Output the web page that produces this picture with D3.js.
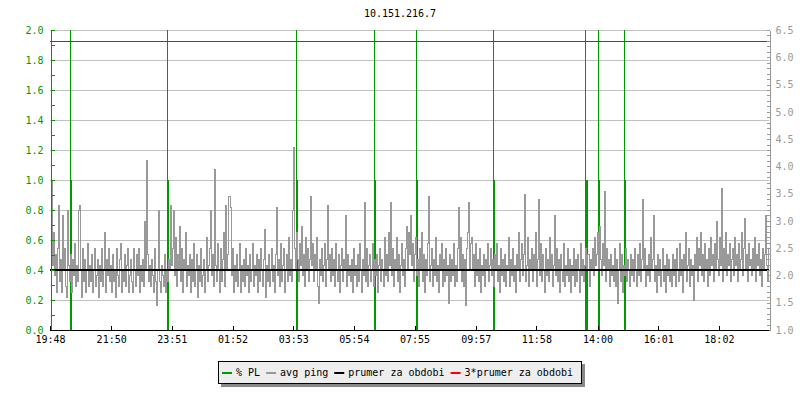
<!DOCTYPE html>
<html><head><meta charset="utf-8">
<script src="https://cdn.jsdelivr.net/npm/d3@7"></script>
<style>
body{margin:0;background:#fff;}
svg{display:block;}
text{font-family:"DejaVu Sans Mono",monospace;font-size:10px;}
</style></head>
<body><svg id="c" width="800" height="400"></svg>
<script>
const title = "10.151.216.7";
// x axis: minutes after 19:48
const xTickMinutes = [0,122,243,364,485,606,727,849,970,1092,1213,1334];
const xTickLabels = ["19:48","21:50","23:51","01:52","03:53","05:54","07:55","09:57","11:58","14:00","16:01","18:02"];
const xDomainMinutes = [0,1432];
const stepMinutes = 2;
// left axis (% PL)
const leftMajor = [0,0.2,0.4,0.6,0.8,1.0,1.2,1.4,1.6,1.8,2.0];
const leftMinor = [0.1,0.3,0.5,0.7,0.9,1.1,1.3,1.5,1.7,1.9];
// right axis (avg ping)
const rightDomain = [1.0,6.5];
const rightLabels = [1.0,1.5,2.0,2.5,3.0,3.5,4.0,4.5,5.0,5.5,6.0,6.5];
// packet loss events
const plMinutes = [40,234,490,646,730,884,1068,1092,1144];
const plDuration = [4,4,4,4,4,4,6,4,4];
const plValue = [1,1,1,1,1,1,1,1,1];
// averages
const avgPing = 2.1;
const avgPing3 = 6.3;
// avg ping samples (every 2 minutes)
const avgPingValues = [
2.6,3.75,2.2,2.8,2.0,2.4,1.7,2.5,3.3,1.9,2.3,1.7,3.1,2.1,2.5,1.8,1.6,3.2,2.2,1.9,
2.4,1.7,2.3,2.0,2.6,1.8,2.2,1.9,3.2,3.3,2.1,1.6,2.5,1.9,2.3,1.7,2.1,2.6,1.8,2.2,
1.9,2.4,1.7,2.1,2.5,1.8,2.0,2.3,1.6,2.2,1.9,2.5,1.8,2.1,2.8,1.7,2.3,2.0,2.5,1.9,
2.2,1.7,2.4,1.9,2.1,1.6,2.5,2.0,1.8,2.3,2.6,1.7,2.1,1.9,2.4,1.8,2.2,2.5,1.7,2.0,
2.3,1.9,1.7,2.5,2.1,1.8,2.4,2.0,2.5,1.7,2.2,1.9,2.3,1.8,3.0,2.1,4.12,2.4,1.9,2.2,
1.8,2.3,2.0,1.7,2.5,1.9,1.45,2.1,3.2,1.9,1.7,2.2,2.0,1.8,2.4,1.7,2.1,1.9,2.3,2.1,
3.3,2.2,2.5,3.2,2.0,2.7,1.8,2.4,2.1,2.9,1.9,2.5,1.7,2.3,2.1,2.8,1.8,2.2,2.0,2.4,
1.7,2.3,1.9,2.6,1.8,2.1,2.4,1.6,2.2,1.9,2.5,1.8,2.0,2.3,1.7,2.1,2.7,1.9,2.2,2.5,
3.2,2.0,2.4,1.8,3.95,2.2,1.9,2.6,2.1,1.7,2.5,1.9,2.3,2.8,1.8,3.3,2.1,2.4,3.45,3.25,
2.0,2.5,1.7,2.2,1.9,2.4,1.8,2.1,2.6,1.7,2.2,1.9,2.3,1.8,2.5,2.0,2.2,1.7,2.4,1.9,
2.1,2.6,1.8,2.2,2.0,2.4,1.7,2.3,1.9,2.5,2.1,1.8,2.3,2.85,1.6,2.2,1.9,2.4,1.8,2.1,
2.5,1.9,2.2,1.7,2.4,3.25,2.0,2.3,1.8,2.6,1.9,2.2,2.5,1.7,2.1,2.4,1.9,2.7,2.0,2.3,
1.9,3.2,4.36,2.5,2.1,2.8,2.3,1.9,2.6,2.2,2.9,2.0,2.4,1.8,2.7,2.1,2.5,1.9,2.3,3.45,
2.2,2.6,1.9,2.4,2.1,2.7,1.8,1.5,2.3,2.0,2.5,1.9,2.2,2.6,1.8,2.3,3.3,2.1,2.4,1.9,
2.5,2.0,2.3,1.8,2.6,2.1,1.9,2.4,1.7,2.2,2.5,1.9,2.3,2.1,3.1,1.8,2.4,2.0,2.2,1.9,
2.3,1.7,2.5,2.0,2.2,1.8,2.4,1.9,2.6,2.1,1.7,2.3,2.0,3.35,1.9,2.5,1.8,2.2,2.4,1.9,
2.1,2.6,1.8,2.3,2.0,2.4,1.7,2.2,2.5,1.9,2.3,2.1,1.8,2.7,2.0,2.4,1.9,2.8,2.2,3.35,
2.0,2.5,1.8,2.3,2.1,2.7,1.9,2.4,1.7,2.2,2.6,2.0,2.3,1.8,2.5,2.9,2.1,2.8,2.4,3.1,
2.2,2.6,1.9,2.4,2.7,2.0,2.3,1.8,2.5,2.1,2.8,1.9,2.4,1.7,2.3,2.0,2.6,3.45,1.9,2.2,
2.5,1.8,2.3,2.0,2.7,1.9,2.2,1.7,2.4,2.1,2.6,1.8,2.3,1.9,2.5,2.0,2.2,1.5,2.4,1.9,
2.3,2.0,2.6,1.8,2.2,1.9,2.5,3.25,2.1,2.7,1.9,2.4,1.8,2.3,1.45,2.5,2.8,3.35,2.1,2.6,
2.7,2.1,2.4,1.8,2.6,2.0,2.3,1.9,2.5,1.7,2.2,2.0,2.4,1.8,2.3,2.1,2.6,1.9,2.2,2.5,
2.0,2.3,1.8,2.4,2.1,2.6,1.9,2.2,1.7,2.5,2.0,2.3,1.9,2.4,1.8,2.2,2.1,2.7,1.8,2.3,
2.0,2.5,1.9,2.2,1.7,2.4,2.1,2.8,1.9,2.3,2.6,2.0,2.4,3.5,1.9,2.2,2.7,1.8,2.3,2.1,
2.5,1.9,2.4,2.1,2.8,1.8,2.3,3.4,2.0,2.6,1.9,2.4,2.1,1.7,2.5,2.0,2.3,1.9,2.7,2.1,
2.4,1.8,2.2,3.1,2.0,2.5,1.9,2.3,1.7,2.4,2.1,1.9,2.6,1.8,2.2,2.0,2.5,1.9,2.3,1.7,
2.2,2.0,2.5,1.8,2.3,1.9,2.4,2.1,1.7,2.6,2.0,2.3,1.9,2.2,2.5,2.1,2.4,1.8,2.3,2.1,
2.5,2.0,2.7,2.2,2.4,2.8,2.1,2.9,2.3,2.0,2.6,2.2,3.55,1.9,2.5,2.1,2.3,1.8,2.4,2.0,
2.2,1.9,2.5,1.8,2.3,1.5,2.1,2.6,1.9,2.4,1.7,2.2,2.0,2.5,1.9,2.3,2.1,1.8,2.4,2.0,
2.3,1.9,2.5,2.1,1.8,2.4,2.0,2.6,1.9,2.3,3.4,2.1,2.5,1.8,2.2,2.0,2.4,1.9,2.7,2.1,
2.3,3.1,1.9,2.2,1.7,2.4,2.0,2.3,1.8,2.1,2.5,1.9,2.2,1.7,2.4,2.0,2.3,1.9,2.1,1.8,
2.4,2.0,2.3,1.8,2.5,2.1,1.9,2.6,2.0,2.3,1.7,2.4,2.1,2.8,1.9,2.2,2.5,1.8,2.3,2.0,
2.2,1.55,2.4,2.1,2.7,1.9,2.5,2.2,2.8,2.0,2.4,1.9,2.6,2.1,2.3,1.8,2.5,2.0,2.7,2.2,
2.4,1.9,2.6,2.1,3.0,2.3,2.0,2.7,2.2,3.6,1.9,2.5,2.1,2.8,2.0,2.4,2.2,2.6,1.9,2.3,
2.5,2.0,2.7,2.2,2.4,1.9,2.6,2.1,2.3,2.8,2.0,2.5,3.05,2.1,2.4,1.9,2.6,2.2,2.3,2.0,
2.5,2.1,2.7,1.9,2.4,2.2,2.6,2.0,2.3,1.8,2.5,2.1,2.4,3.1,2.2,1.9,2.5,2.1
];
const legendItems = [
  {label:"% PL", color:"#009900"},
  {label:"avg ping", color:"#999999"},
  {label:"prumer za obdobi", color:"#000000"},
  {label:"3*prumer za obdobi", color:"#ff0000"}
];

const GREEN = "#009900", GRID = "#c0c0c0", PING = "#999999";
const svg = d3.select("#c");
const L = 50, R = 768, T = 30, B = 330;
const x = d3.scaleLinear().domain(xDomainMinutes).range([L, R]);
const yL = d3.scaleLinear().domain([0, 2]).range([B, T]);
const yR = d3.scaleLinear().domain(rightDomain).range([B, T]);

svg.append("defs").append("clipPath").attr("id","clip")
  .append("rect").attr("x",L).attr("y",T).attr("width",R-L+1).attr("height",B-T);

// title
svg.append("text").attr("x",400).attr("y",17).attr("text-anchor","middle").attr("fill","#000").text(title);

// gridlines
svg.append("g").selectAll("line").data(leftMajor.filter(d=>d>0)).join("line")
  .attr("x1",L).attr("x2",R+1).attr("y1",d=>yL(d)+0.5).attr("y2",d=>yL(d)+0.5)
  .attr("stroke",GRID).attr("stroke-width",1);

const plot = svg.append("g").attr("clip-path","url(#clip)");

// % PL
plMinutes.forEach((m,i)=>{
  const x0 = Math.round(x(m));
  const w = Math.max(2, Math.round(x(m+plDuration[i]) - x(m)));
  plot.append("line").attr("x1",x0+0.5).attr("x2",x0+0.5).attr("y1",yL(2)).attr("y2",yL(plValue[i]))
    .attr("stroke",GREEN).attr("stroke-width",1);
  plot.append("rect").attr("x",x0).attr("width",w).attr("y",yL(plValue[i])).attr("height",yL(0)-yL(plValue[i]))
    .attr("fill",GREEN);
});

// avg ping
const line = d3.line().curve(d3.curveStepAfter)
  .x((d,i)=>Math.round(x(i*stepMinutes))+0.5).y(d=>Math.round(yR(d))+0.5);
plot.append("path").datum(avgPingValues).attr("d",line).attr("fill","none")
  .attr("stroke",PING).attr("stroke-width",1).attr("shape-rendering","crispEdges");

// averages
plot.append("line").attr("x1",L).attr("x2",R+1).attr("y1",Math.round(yR(avgPing))).attr("y2",Math.round(yR(avgPing)))
  .attr("stroke","#000").attr("stroke-width",2);
plot.append("line").attr("x1",L).attr("x2",R+1).attr("y1",Math.round(yR(avgPing3))+0.5).attr("y2",Math.round(yR(avgPing3))+0.5)
  .attr("stroke","#ff0000").attr("stroke-width",1);

// left axis
const gL = svg.append("g").attr("transform",`translate(${L+0.5},0)`);
gL.call(d3.axisLeft(yL).tickValues(leftMajor).tickFormat(d3.format(".1f")).tickSizeInner(-4).tickSizeOuter(0).tickPadding(7));
gL.append("g").call(d3.axisLeft(yL).tickValues(leftMinor).tickFormat("").tickSizeInner(-4).tickSizeOuter(0));
gL.selectAll("path,line").attr("stroke",GREEN).attr("shape-rendering","crispEdges");
gL.selectAll("text").attr("fill",GREEN).style("font-family","DejaVu Sans Mono").style("font-size","10px");

// right axis
const rTicks = d3.range(10,66).map(d=>d/10);
const gR = svg.append("g").attr("transform",`translate(${R+1.5},0)`);
gR.call(d3.axisRight(yR).tickValues(rTicks)
  .tickFormat(d=> rightLabels.some(v=>Math.abs(v-d)<1e-6) ? d3.format(".1f")(d) : "")
  .tickSizeInner(-3).tickSizeOuter(0).tickPadding(6));
gR.selectAll("path,line").attr("stroke","#999").attr("shape-rendering","crispEdges");
gR.selectAll("text").attr("fill","#999").style("font-family","DejaVu Sans Mono").style("font-size","10px");

// bottom axis
const gB = svg.append("g").attr("transform",`translate(0,${B+0.5})`);
gB.call(d3.axisBottom(x).tickValues(xTickMinutes).tickFormat((d,i)=>xTickLabels[i]).tickSizeInner(-5).tickSizeOuter(0).tickPadding(5));
gB.selectAll("path,line").attr("stroke","#000").attr("shape-rendering","crispEdges");
gB.select(".domain").attr("d",`M${L},0H${R+1}`);
gB.selectAll("text").attr("fill","#000").style("font-family","DejaVu Sans Mono").style("font-size","10px");

// legend
const lg = svg.append("g");
const lx = 218, ly = 361, lh = 22;
const shadow = lg.append("rect").attr("fill","#888");
const box = lg.append("rect").attr("fill","#eeeeee").attr("stroke","#000").attr("stroke-width",1);
let cx = lx + 4;
legendItems.forEach(it=>{
  lg.append("line").attr("x1",cx).attr("x2",cx+10).attr("y1",ly+lh/2+1).attr("y2",ly+lh/2+1)
    .attr("stroke",it.color).attr("stroke-width",2);
  const t = lg.append("text").attr("x",cx+14).attr("y",ly+lh/2+4).attr("fill","#000").text(it.label);
  cx += 14 + t.node().getComputedTextLength() + 6;
});
const lw = cx - lx + 2;
box.attr("x",lx+0.5).attr("y",ly+0.5).attr("width",lw).attr("height",lh);
shadow.attr("x",lx+3).attr("y",ly+3).attr("width",lw+1).attr("height",lh+1);
</script></body></html>
